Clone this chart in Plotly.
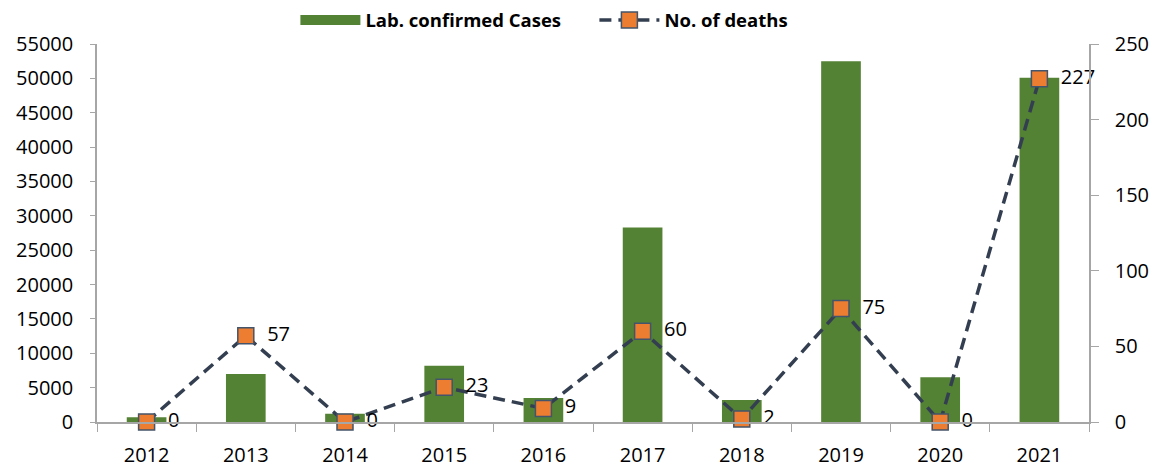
import plotly.graph_objects as go

years = ["2012", "2013", "2014", "2015", "2016", "2017", "2018", "2019", "2020", "2021"]
cases = [700, 7000, 1200, 8200, 3500, 28300, 3200, 52500, 6500, 50100]
deaths = [0, 57, 0, 23, 9, 60, 2, 75, 0, 227]

GREEN = "#548235"
ORANGE = "#ED7D31"
NAVY = "#333F50"
GRID = "#A6A6A6"
FONT = "Open Sans"

fig = go.Figure()

# bars (legend entry drawn by a wide-swatch stand-in below)
fig.add_trace(go.Bar(
    x=years, y=cases, name="Lab. confirmed Cases",
    marker=dict(color=GREEN, line=dict(width=0)),
    width=0.4, showlegend=False, legendgroup="cases",
))
fig.add_trace(go.Scatter(
    x=[None], y=[None], name="Lab. confirmed Cases", mode="lines",
    line=dict(color=GREEN, width=15), legendgroup="cases",
))

fig.add_trace(go.Scatter(
    x=years, y=deaths, name="No. of deaths", yaxis="y2",
    mode="lines+markers+text",
    line=dict(color=NAVY, width=3.5, dash="12px,7px"),
    marker=dict(symbol="square", size=16, color=ORANGE,
                line=dict(color="#44546A", width=1.5)),
    text=["  " + str(d) for d in deaths],
    textposition="middle right",
    textfont=dict(size=20, color="black", family=FONT),
    cliponaxis=False,
))

# page body has an 8px margin, so the figure is shrunk and shifted to match
fig.update_layout(
    width=1155, height=461,
    margin=dict(l=89, r=74, t=36, b=47, autoexpand=False),
    plot_bgcolor="white", paper_bgcolor="white",
    font=dict(family=FONT, size=20, color="black"),
    showlegend=True,
    legend=dict(
        orientation="h", x=0.2, xanchor="left", y=1.062, yanchor="middle",
        font=dict(size=18.5, family=FONT, weight="bold"),
        traceorder="normal", itemwidth=60, entrywidth=224,
    ),
    xaxis=dict(
        range=[-0.5, 9.5],
        showline=True, linecolor=GRID, linewidth=1.5,
        ticks="outside", ticklen=8, tickcolor=GRID, tickson="boundaries",
        showgrid=False, tickfont=dict(size=20), ticklabelstandoff=14,
    ),
    yaxis=dict(
        range=[0, 55000], dtick=5000, showgrid=False, tickformat="d",
        showline=True, linecolor=GRID, linewidth=1.5,
        ticks="outside", ticklen=5, tickcolor=GRID,
        tickfont=dict(size=20), zeroline=False, ticklabelstandoff=13,
    ),
    yaxis2=dict(
        range=[0, 250], dtick=50, overlaying="y", side="right",
        showgrid=False, showline=True, linecolor=GRID, linewidth=1.5,
        ticks="outside", ticklen=8, tickcolor=GRID,
        tickfont=dict(size=20), zeroline=False, ticklabelstandoff=12,
    ),
)

fig.write_html("out.html")
